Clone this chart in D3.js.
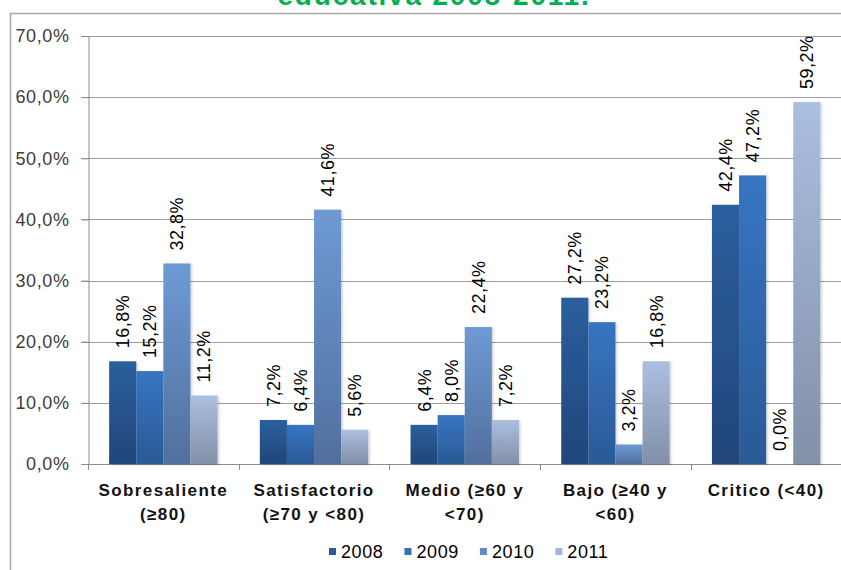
<!DOCTYPE html>
<html>
<head>
<meta charset="utf-8">
<script src="https://cdn.jsdelivr.net/npm/d3@7"></script>
<style>
  html, body { margin: 0; padding: 0; background: #fff; }
  svg { display: block; font-family: "Liberation Sans", Arial, sans-serif; }
</style>
</head>
<body>
<svg id="chart" width="841" height="570"></svg>
<script>
// Niveles de desempeño por año
const categories = ["Sobresaliente (≥80)", "Satisfactorio (≥70 y <80)", "Medio (≥60 y <70)", "Bajo (≥40 y <60)", "Critico (<40)"];
const categoryLines = [
  ["Sobresaliente", "(≥80)"],
  ["Satisfactorio", "(≥70 y <80)"],
  ["Medio (≥60 y", "<70)"],
  ["Bajo (≥40 y", "<60)"],
  ["Critico (<40)"]
];
const years = ["2008", "2009", "2010", "2011"];
const values2008 = [16.8, 7.2, 6.4, 27.2, 42.4];
const values2009 = [15.2, 6.4, 8.0, 23.2, 47.2];
const values2010 = [32.8, 41.6, 22.4, 3.2, 0.0];
const values2011 = [11.2, 5.6, 7.2, 16.8, 59.2];
const yTicks = [0, 10, 20, 30, 40, 50, 60, 70];
const titleText = "educativa 2008-2011.";

const series = [values2008, values2009, values2010, values2011];
const gradientStops = [
  ["#2c5f9e", "#21467a"],
  ["#3775c2", "#2a5a95"],
  ["#6e9ad4", "#516f9e"],
  ["#abbfe0", "#8290a8"]
];
const legendColors = ["#2a5a96", "#3670b8", "#6389c4", "#a3b5d6"];

const FONT = "'Liberation Sans', Arial, sans-serif";
const svg = d3.select("#chart");
const fmt = v => v.toFixed(1).replace(".", ",") + "%";

// Gradients and soft bar shadow
const defs = svg.append("defs");
gradientStops.forEach((s, i) => {
  const g = defs.append("linearGradient").attr("id", "grad" + i)
    .attr("x1", 0).attr("y1", 0).attr("x2", 0).attr("y2", 1);
  g.append("stop").attr("offset", "0%").attr("stop-color", s[0]);
  g.append("stop").attr("offset", "100%").attr("stop-color", s[1]);
});
const shadow = defs.append("filter").attr("id", "shadow")
  .attr("x", "-20%").attr("y", "-5%").attr("width", "150%").attr("height", "115%");
shadow.append("feDropShadow").attr("dx", 1.5).attr("dy", 1).attr("stdDeviation", 1.2)
  .attr("flood-color", "#000").attr("flood-opacity", 0.18);

// Outer frame
svg.append("rect").attr("x", 10.5).attr("y", 13.5).attr("width", 840).attr("height", 570)
  .attr("fill", "none").attr("stroke", "#a8a8a8").attr("stroke-width", 1.5);

// Title (runs past the top edge)
svg.append("text").attr("x", 434).attr("y", 5)
  .attr("text-anchor", "middle").attr("font-size", 28).attr("font-weight", "bold")
  .attr("font-family", FONT)
  .attr("letter-spacing", 1.8).attr("fill", "#00b050").text(titleText);

// Scales
const plotLeft = 88, plotRight = 841.5, plotTop = 36, plotBottom = 464;
const x0 = d3.scaleBand().domain(categories).range([plotLeft, plotRight]).paddingInner(0).paddingOuter(0);
const x1 = d3.scaleBand().domain(years).range([0, x0.bandwidth()]).paddingInner(0).paddingOuter(0.78);
const y = d3.scaleLinear().domain([0, 70]).range([plotBottom, plotTop]);

// Gridlines
svg.append("g").selectAll("line").data(yTicks.filter(t => t > 0)).join("line")
  .attr("x1", plotLeft - 7).attr("x2", 841)
  .attr("y1", d => Math.round(y(d)) + 0.5).attr("y2", d => Math.round(y(d)) + 0.5)
  .attr("stroke", "#9c9c9c").attr("stroke-width", 1);

// Y axis
const yAxis = svg.append("g").attr("transform", `translate(${plotLeft + 0.5},0)`)
  .call(d3.axisLeft(y).tickValues(yTicks).tickSize(7).tickPadding(12).tickFormat(fmt));
yAxis.select(".domain").attr("stroke", "#8c8c8c");
yAxis.selectAll(".tick line").attr("stroke", "#8c8c8c");
yAxis.selectAll(".tick text").attr("font-size", 18).attr("fill", "#3c3c3c")
  .attr("font-family", FONT).attr("letter-spacing", 0.6);

// X axis line and category separators
svg.append("line").attr("x1", plotLeft).attr("x2", 841).attr("y1", plotBottom + 0.5).attr("y2", plotBottom + 0.5)
  .attr("stroke", "#8c8c8c");
const boundaries = categories.map(c => x0(c)).concat([plotRight]);
svg.append("g").selectAll("line").data(boundaries).join("line")
  .attr("x1", d => Math.round(d) + 0.5).attr("x2", d => Math.round(d) + 0.5)
  .attr("y1", plotBottom).attr("y2", plotBottom + 6).attr("stroke", "#8c8c8c");

// Bars
const groups = svg.append("g").selectAll("g").data(categories).join("g")
  .attr("transform", c => `translate(${x0(c)},0)`);
groups.each(function (c, ci) {
  const g = d3.select(this);
  years.forEach((yr, si) => {
    const v = series[si][ci];
    if (v > 0) {
      g.append("rect")
        .attr("x", x1(yr)).attr("width", x1.bandwidth())
        .attr("y", y(v)).attr("height", y(0) - y(v))
        .attr("fill", `url(#grad${si})`).attr("filter", "url(#shadow)");
    }
  });
});

// Value labels
groups.each(function (c, ci) {
  const g = d3.select(this);
  years.forEach((yr, si) => {
    const v = series[si][ci];
    const cx = x1(yr) + x1.bandwidth() / 2;
    g.append("text")
      .attr("transform", `translate(${cx},${y(v) - 13}) rotate(-90)`)
      .attr("dy", "0.36em").attr("text-anchor", "start")
      .attr("font-family", FONT).attr("letter-spacing", 0.5)
      .attr("font-size", 18).attr("fill", "#000").text(fmt(v));
  });
});

// Category labels
const catLabels = svg.append("g").selectAll("text").data(categories).join("text")
  .attr("x", c => x0(c) + x0.bandwidth() / 2)
  .attr("y", 496)
  .attr("text-anchor", "middle").attr("font-size", 17).attr("font-weight", "bold")
  .attr("font-family", FONT)
  .attr("letter-spacing", 1.4).attr("fill", "#111");
catLabels.each(function (c, i) {
  const t = d3.select(this);
  categoryLines[i].forEach((line, li) => {
    t.append("tspan").attr("x", x0(c) + x0.bandwidth() / 2)
      .attr("dy", li === 0 ? 0 : 24).text(line);
  });
});

// Legend
const legend = svg.append("g").attr("transform", "translate(329,558)");
let lx = 0;
years.forEach((yr, i) => {
  const item = legend.append("g").attr("transform", `translate(${lx},0)`);
  item.append("rect").attr("x", 0).attr("y", -10).attr("width", 7).attr("height", 7)
    .attr("fill", legendColors[i]);
  const t = item.append("text").attr("x", 12).attr("y", 0).attr("font-size", 18)
    .attr("font-family", FONT).attr("letter-spacing", 0.6)
    .attr("fill", "#000").text(yr);
  lx += 12 + t.node().getComputedTextLength() + 21;
});
</script>
</body>
</html>
